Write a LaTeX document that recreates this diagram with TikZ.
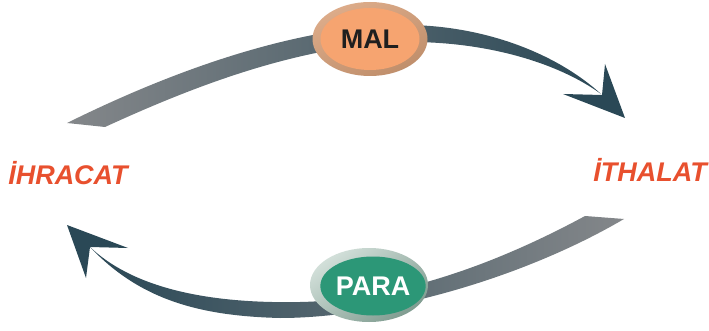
\documentclass[tikz,border=0pt]{standalone}
\usepackage{fontspec}
\setmainfont{Liberation Sans}
\usetikzlibrary{shapes.geometric}
\definecolor{arrowgrey}{HTML}{84878A}
\definecolor{arrowdark}{HTML}{2A4856}
\definecolor{malorange}{HTML}{F6A470}
\definecolor{malring}{HTML}{DDAC8A}
\definecolor{malringdark}{HTML}{BF8E6B}
\definecolor{paragreen}{HTML}{2C9777}
\definecolor{pararing}{HTML}{D3E0DA}
\definecolor{pararingdark}{HTML}{7F9C90}
\definecolor{labelred}{HTML}{E8502E}
\tikzset{
  bigtext/.style={font=\fontsize{27}{27}\selectfont\bfseries},
  trade/.style={bigtext, labelred, font=\fontsize{27}{27}\selectfont\bfseries\itshape, inner sep=0pt},
  coin/.style={ellipse, minimum width=99pt, minimum height=62pt, inner sep=0pt, bigtext}
}

\begin{document}
\begin{tikzpicture}[x=1pt, y=-1pt]
  \useasboundingbox (0,0) rectangle (709,331);
  % upper arrow (goods)
  \shade[left color=arrowgrey, right color=arrowdark]
    (67,123) .. controls (170,72) and (290,28) .. (400,25)
    .. controls (480,24) and (555,52) .. (601,94)
    .. controls (560,64) and (490,42) .. (410,42)
    .. controls (300,44) and (190,88) .. (105,127) -- cycle;
  \fill[arrowdark] (563,94) -- (602,95) -- (605,64) -- (625,118) -- cycle;
  % lower arrow (money)
  \shade[left color=arrowdark, right color=arrowgrey]
    (585,216) .. controls (500,262) and (400,300) .. (300,302)
    .. controls (200,304) and (130,285) .. (90,247)
    .. controls (140,300) and (200,316) .. (280,318)
    .. controls (380,318) and (520,280) .. (624,219) -- cycle;
  \fill[arrowdark] (67,225) -- (128,248) -- (90,247) -- (86,278) -- cycle;
  % MAL
  \shade[top color=malring, bottom color=malringdark, shading angle=25]
    (370,39) ellipse [x radius=57.5, y radius=37];
  \node (mal) [coin, fill=malorange, text=black!88, text depth=-2pt] at (370,39) {MAL};
  % PARA
  \shade[top color=pararing, bottom color=pararingdark, shading angle=35]
    (369,285) ellipse [x radius=59, y radius=37];
  \node (para) [coin, fill=paragreen, text=white, minimum width=102pt, minimum height=59pt] at (373,286) {PARA};
  % labels
  \node (ihracat) [trade] at (68,173.5) {İHRACAT};
  \node (ithalat) [trade] at (650,170) {İTHALAT};
\end{tikzpicture}
\end{document}
